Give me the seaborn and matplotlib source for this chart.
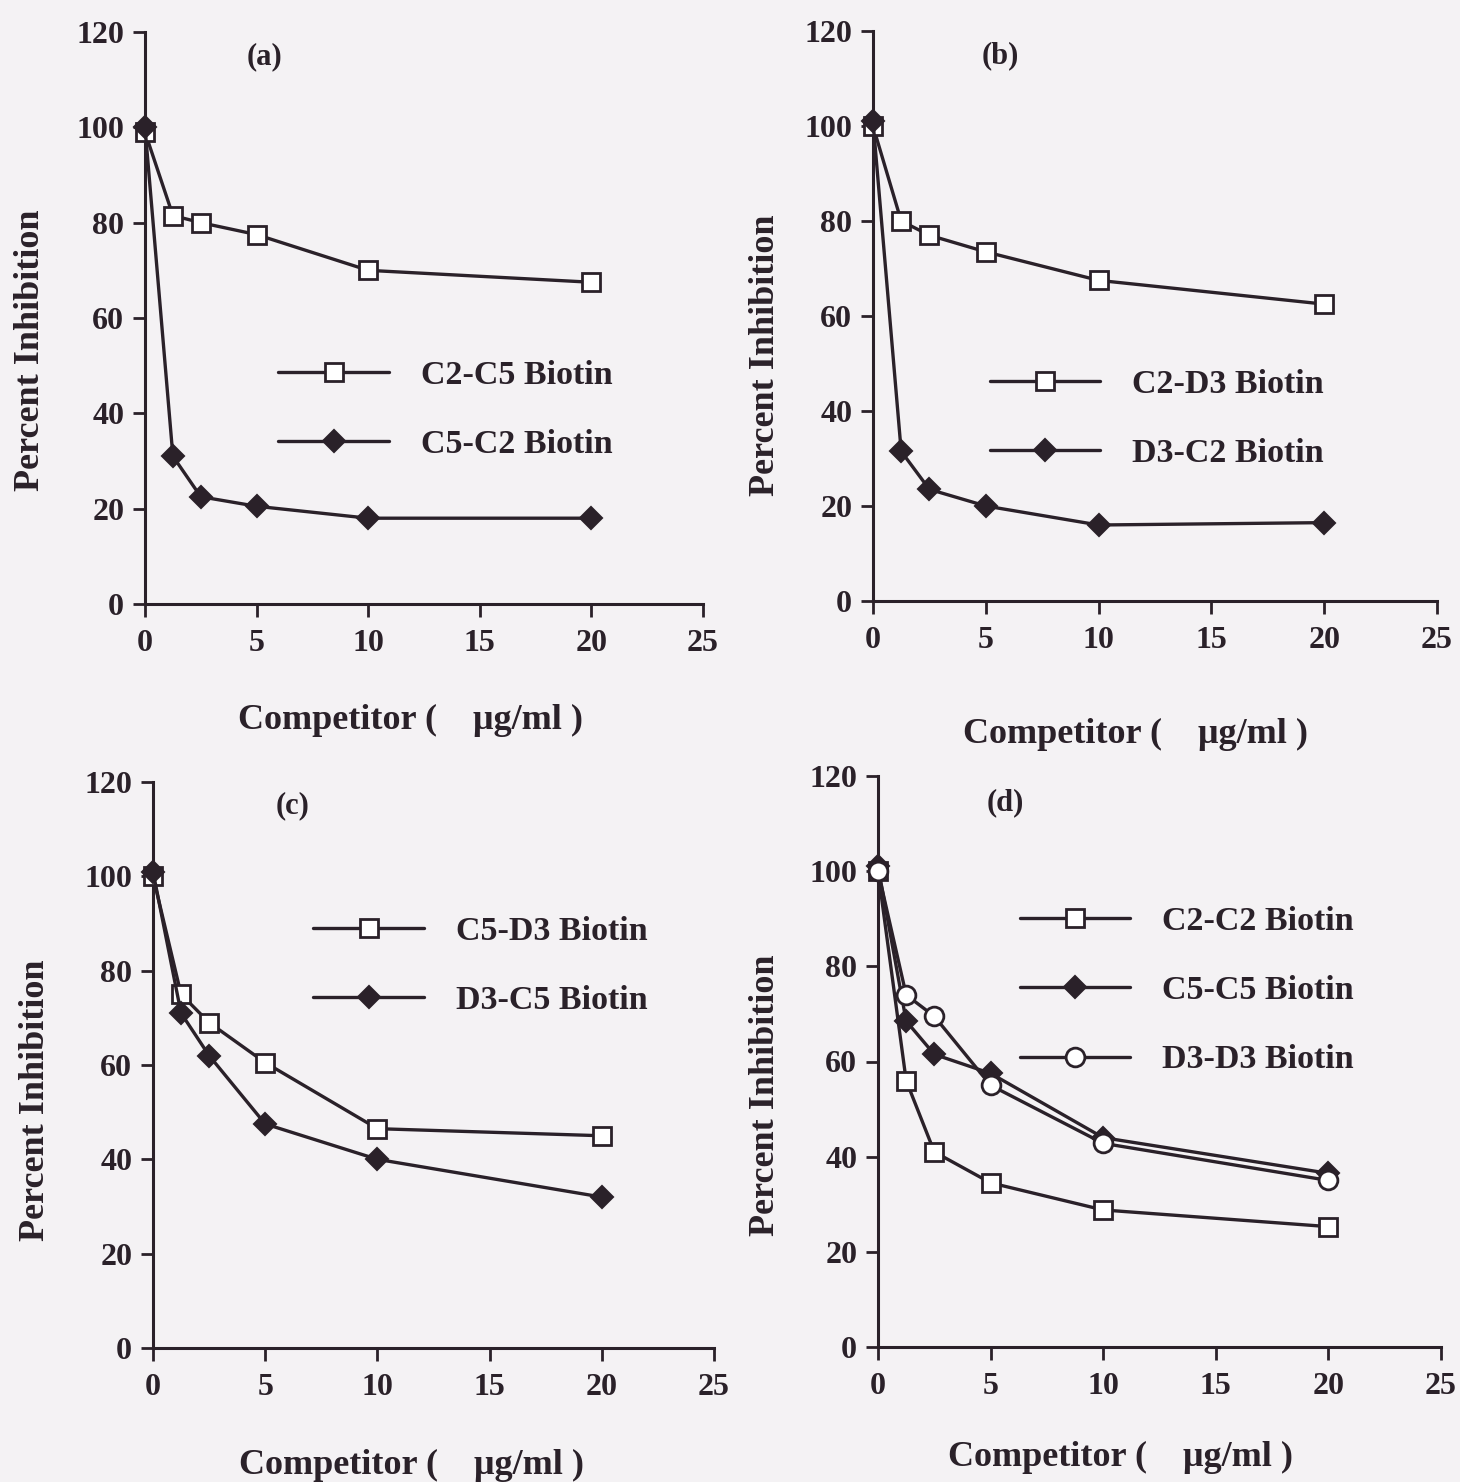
import matplotlib
matplotlib.use("Agg")
import matplotlib.pyplot as plt
import seaborn as sns
import pandas as pd

sns.set_theme(style="white")
plt.rcParams['font.family'] = ['Liberation Serif', 'DejaVu Serif']
plt.rcParams['font.weight'] = 'bold'

INK = '#2a2129'
BG = '#f4f2f4'

# ---------------- data ----------------
conc = [0, 1.25, 2.5, 5, 10, 20]

a_c2c5 = [99, 81.5, 80, 77.5, 70, 67.5]
a_c5c2 = [100, 31, 22.5, 20.5, 18, 18]

b_c2d3 = [100, 80, 77, 73.5, 67.5, 62.5]
b_d3c2 = [101, 31.5, 23.5, 20, 16, 16.5]

c_c5d3 = [100, 75, 69, 60.5, 46.5, 45]
c_d3c5 = [101, 71, 62, 47.5, 40, 32]

d_c2c2 = [100, 56, 41, 34.5, 28.8, 25.3]
d_c5c5 = [101, 68.5, 61.5, 57.5, 44, 36.5]
d_d3d3 = [100, 74, 69.5, 55, 42.8, 35]

xticks = [0, 5, 10, 15, 20, 25]
yticks = [0, 20, 40, 60, 80, 100, 120]

styles = {
    'square': dict(marker='s', markerfacecolor='white', markeredgecolor=INK, markersize=13.5, markeredgewidth=2),
    'diamond': dict(marker='D', markerfacecolor=INK, markeredgecolor=INK, markersize=11.5, markeredgewidth=1.5),
    'circle': dict(marker='o', markerfacecolor='white', markeredgecolor=INK, markersize=13.5, markeredgewidth=2),
}

panels = [
    dict(tag='(a)', pos=(145, 604, 703, 32), series=[('C2-C5 Biotin', a_c2c5, 'square'), ('C5-C2 Biotin', a_c5c2, 'diamond')],
         tpos=(0.215, 0.956), leg=(0.239, 0.427), xl=(0.475, -0.203), yl=(-0.206, 0.444)),
    dict(tag='(b)', pos=(873, 601, 1437, 31), series=[('C2-D3 Biotin', b_c2d3, 'square'), ('D3-C2 Biotin', b_d3c2, 'diamond')],
         tpos=(0.225, 0.956), leg=(0.207, 0.407), xl=(0.466, -0.235), yl=(-0.191, 0.432)),
    dict(tag='(c)', pos=(153, 1348, 714, 782), series=[('C5-D3 Biotin', c_c5d3, 'square'), ('D3-C5 Biotin', c_d3c5, 'diamond')],
         tpos=(0.248, 0.958), leg=(0.286, 0.763), xl=(0.46, -0.207), yl=(-0.21, 0.438)),
    dict(tag='(d)', pos=(878, 1347, 1441, 776), series=[('C2-C2 Biotin', d_c2c2, 'square'), ('C5-C5 Biotin', d_c5c5, 'diamond'),
                                                         ('D3-D3 Biotin', d_d3d3, 'circle')],
         tpos=(0.226, 0.954), leg=(0.252, 0.772), xl=(0.43, -0.193), yl=(-0.2, 0.441)),
]

W, H = 1460, 1482
fig = plt.figure(figsize=(W / 100, H / 100), dpi=100, facecolor=BG)

for p in panels:
    l, b, r, t = p['pos']
    ax = fig.add_axes([l / W, 1 - b / H, (r - l) / W, (b - t) / H])
    ax.set_facecolor(BG)
    for label, vals, st in p['series']:
        df = pd.DataFrame({'x': conc, 'y': vals})
        sns.lineplot(data=df, x='x', y='y', ax=ax, color=INK, linewidth=2.4, label=label,
                     clip_on=False, zorder=3, **styles[st])
    ax.set_xlim(0, 25)
    ax.set_ylim(0, 120)
    ax.set_xticks(xticks)
    ax.set_yticks(yticks)
    for s in ['top', 'right']:
        ax.spines[s].set_visible(False)
    for s in ['left', 'bottom']:
        ax.spines[s].set_color(INK)
        ax.spines[s].set_linewidth(2.2)
    ax.tick_params(axis='both', direction='out', length=9, width=2, color=INK, labelcolor=INK,
                   labelsize=23, left=True, bottom=True)
    ax.tick_params(axis='x', pad=9)
    ax.tick_params(axis='y', pad=6)
    for lab in ax.get_xticklabels() + ax.get_yticklabels():
        lab.set_fontweight('bold')
    ax.set_xlabel('Competitor (    \u03bcg/ml )', fontsize=26, fontweight='bold', color=INK, va='center')
    ax.xaxis.set_label_coords(*p['xl'])
    ax.set_ylabel('Percent Inhibition', fontsize=26, fontweight='bold', color=INK, va='center')
    ax.yaxis.set_label_coords(*p['yl'])
    ax.text(p['tpos'][0], p['tpos'][1], p['tag'], transform=ax.transAxes, ha='center', va='center',
            fontsize=22, fontweight='bold', color=INK)
    leg = ax.legend(loc='upper left', bbox_to_anchor=p['leg'], frameon=False, fontsize=24.5,
                    handlelength=3.25, handletextpad=0.94, labelspacing=1.12, borderpad=0, borderaxespad=0)
    for txt in leg.get_texts():
        txt.set_color(INK)
        txt.set_fontweight('bold')

fig.savefig('out.png', dpi=100, facecolor=BG)
